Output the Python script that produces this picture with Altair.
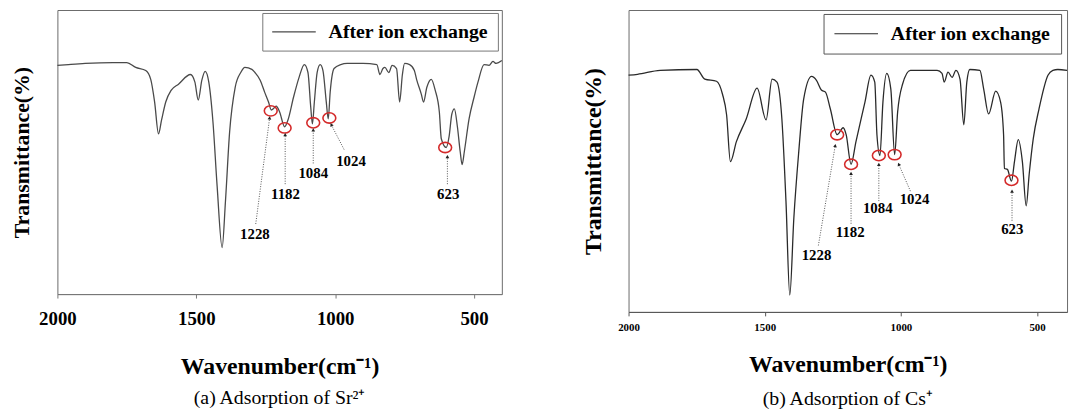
import altair as alt
import pandas as pd

SERIF = "Liberation Serif"
SERIES = "After ion exchange"

# ---------- (a) Adsorption of Sr2+ ----------
wn_a = [2000, 1960, 1900, 1800, 1750, 1718, 1682, 1664, 1650, 1636,
        1625, 1610, 1590, 1564, 1521, 1505, 1493, 1480, 1468, 1455,
        1440, 1425, 1407, 1395, 1380, 1360, 1340, 1325, 1300, 1289,
        1270, 1254, 1240, 1230, 1220, 1212, 1200, 1182, 1170, 1150,
        1130, 1111, 1098, 1088, 1082, 1075, 1065, 1054, 1044, 1032,
        1025, 1018, 1004, 980, 957, 900, 850, 839, 828, 821,
        807, 795, 779, 768, 758, 750, 732, 715, 707, 690,
        682, 670, 654, 640, 625, 618, 600, 590, 580, 571,
        560, 550, 543, 535, 518, 500, 486, 464, 446, 432,
        421, 400]
t_a = [80.5, 80.8, 81.2, 81.5, 81.5, 79.8, 78.7, 75.6, 67.6, 56.4,
       61.3, 67.6, 71.8, 73.9, 77.3, 74.6, 68.3, 75.3, 78.4, 74.6,
       60.6, 38.0, 16.4, 32.7, 57.1, 72.8, 78.0, 79.8, 79.1, 78.0,
       75.3, 71.1, 67.6, 64.8, 65.5, 66.2, 64.1, 58.9, 61.3, 69.3,
       76.3, 80.8, 78.0, 65.8, 59.9, 67.6, 78.0, 80.8, 78.7, 67.6,
       61.7, 71.1, 79.4, 80.8, 81.2, 81.2, 80.8, 77.3, 79.4, 79.8,
       78.0, 80.5, 79.4, 67.6, 77.3, 81.2, 80.8, 78.7, 75.6, 70.4,
       67.6, 72.8, 75.6, 71.8, 64.1, 54.7, 51.6, 55.4, 63.4, 65.2,
       58.9, 50.2, 45.6, 50.2, 61.7, 69.3, 74.6, 80.8, 80.5, 81.9,
       81.2, 82.2]

# ---------- (b) Adsorption of Cs+ ----------
wn_b = [2000, 1967, 1884, 1749, 1720, 1677, 1655, 1640, 1626, 1604,
        1568, 1528, 1495, 1473, 1455, 1437, 1422, 1408, 1393, 1375,
        1357, 1328, 1310, 1292, 1277, 1259, 1234, 1212, 1201, 1183,
        1165, 1132, 1110, 1096, 1088, 1077, 1066, 1052, 1037, 1023,
        1012, 994, 965, 867, 849, 841, 827, 812, 798, 783,
        769, 758, 747, 710, 696, 678, 652, 634, 623, 620,
        609, 594, 583, 569, 554, 540, 529, 514, 493, 460,
        442, 424, 390]
t_b = [78.4, 78.7, 80.0, 80.3, 77.1, 76.4, 72.1, 65.3, 49.8, 56.4,
       63.9, 74.1, 63.6, 77.1, 76.1, 63.9, 36.7, 5.6, 31.2, 53.1,
       70.5, 78.0, 76.7, 73.5, 72.8, 67.2, 58.7, 61.0, 58.7, 48.9,
       56.4, 69.5, 78.4, 76.1, 58.7, 51.8, 69.5, 79.0, 73.8, 52.1,
       66.2, 75.4, 80.0, 80.0, 79.0, 76.1, 79.4, 77.7, 80.0, 77.1,
       62.0, 76.1, 80.3, 80.0, 73.8, 65.6, 73.1, 69.5, 58.7, 47.5,
       47.2, 43.3, 49.8, 57.1, 49.8, 35.1, 45.6, 57.4, 67.2, 78.4,
       80.0, 80.3, 80.0]

# ---------- peak annotations ----------
peak_labels = ["1228", "1182", "1084", "1024", "623"]

circ_wn_a = [1232, 1182, 1079, 1021, 604]
circ_t_a = [64.5, 58.5, 60.3, 62.0, 51.6]
lab_wn_a = [1289, 1179, 1079, 943, 593]
lab_t_a = [21.3, 35.2, 42.5, 46.7, 35.2]
a0_wn_a = [1286, 1180, 1079, 968, 596]
a0_t_a = [24.7, 38.7, 46.0, 50.9, 38.7]
a1_wn_a = [1236, 1180, 1079, 1014, 596]
a1_t_a = [62.0, 56.1, 57.8, 59.6, 48.4]
ang_a = [7, 0, 0, 333, 0]

circ_wn_b = [1234, 1183, 1081, 1023, 594]
circ_t_b = [58.7, 48.9, 51.8, 52.1, 43.6]
lab_wn_b = [1310, 1186, 1085, 950, 591]
lab_t_b = [19.0, 26.6, 34.4, 37.4, 27.5]
a0_wn_b = [1303, 1183, 1081, 965, 592]
a0_t_b = [22.0, 29.2, 36.7, 40.0, 30.2]
a1_wn_b = [1241, 1183, 1081, 1008, 592]
a1_t_b = [55.1, 45.9, 48.9, 48.9, 40.0]
ang_b = [10, 0, 0, 336, 0]

tick_values = [2000, 1500, 1000, 500]

ELLIPSE = "M-1,0A1,0.8,0,1,1,1,0A1,0.8,0,1,1,-1,0Z"


def panel(wn, t, cw, ct, lw, lt, w0, t0, w1, t1, ang, caption, cfg):
    xs = alt.Scale(domain=cfg["x_dom"], nice=False, zero=False)
    ys = alt.Scale(domain=[0, 100], nice=False, zero=False)
    xax = alt.Axis(
        title="Wavenumber(cm⁻¹)", values=tick_values, format="d", grid=False,
        labelFont=SERIF, labelFontSize=cfg["lab_fs"], labelFontWeight="bold",
        labelColor="black", labelPadding=cfg["lab_pad"], labelOverlap=False,
        labelFlush=False, labelBound=False,
        tickSize=4, tickColor=cfg["frame"], domainColor=cfg["frame"],
        titleFont=SERIF, titleFontSize=24, titleFontWeight="bold",
        titleColor="black", titlePadding=cfg["xt_pad"])
    yax = alt.Axis(
        title="Transmittance(%)", labels=False, ticks=False, domain=False,
        grid=False, titleFont=SERIF, titleFontSize=cfg["yt_fs"],
        titleFontWeight="bold", titleColor="black", titlePadding=cfg["yt_pad"])

    def X(f):
        return alt.X(f, type="quantitative", scale=xs, axis=xax)

    def Y(f):
        return alt.Y(f, type="quantitative", scale=ys, axis=yax)

    df = pd.DataFrame({"wn": wn, "T": t, "series": [SERIES] * len(wn)})
    ann = pd.DataFrame({"label": peak_labels, "cw": cw, "ct": ct, "lw": lw,
                        "lt": lt, "w0": w0, "t0": t0, "w1": w1, "t1": t1,
                        "ang": ang})

    line = alt.Chart(df).mark_line(strokeWidth=1.3, interpolate="monotone").encode(
        x=X("wn"), y=Y("T"),
        color=alt.Color("series:N",
                        scale=alt.Scale(domain=[SERIES], range=[cfg["line"]]),
                        legend=alt.Legend(
                            title=None, orient="none",
                            legendX=cfg["leg_x"], legendY=cfg["leg_y"],
                            symbolType="stroke", symbolSize=1936,
                            symbolStrokeWidth=1.2, clipHeight=20,
                            labelFont=SERIF, labelFontSize=20,
                            labelFontWeight="bold", labelColor="black",
                            labelOffset=12, labelLimit=400,
                            padding=cfg["leg_pad"], strokeColor=cfg["frame"],
                            fillColor="white", cornerRadius=0)))
    circles = alt.Chart(ann).mark_point(
        shape=ELLIPSE, size=169, filled=False, stroke="#d42a2a",
        strokeWidth=1.6, opacity=1).encode(x=X("cw"), y=Y("ct"))
    rules = alt.Chart(ann).mark_rule(
        strokeDash=[1, 1.5], strokeWidth=1, color="#555").encode(
        x=X("w0"), y=Y("t0"), x2="w1", y2="t1")
    arrows = alt.Chart(ann).mark_point(
        shape="triangle-up", filled=True, size=14, color="#222", opacity=1).encode(
        x=X("w1"), y=Y("t1"), angle=alt.Angle("ang:Q", scale=None))
    texts = alt.Chart(ann).mark_text(
        font=SERIF, fontSize=15, fontWeight="bold", color="black").encode(
        x=X("lw"), y=Y("lt"), text="label:N")

    return alt.layer(line, circles, rules, arrows, texts).properties(
        width=cfg["w"], height=cfg["h"],
        title=alt.TitleParams(caption, orient="bottom", font=SERIF, fontSize=20,
                              fontWeight="normal", color="black",
                              offset=cfg["cap_off"]))


cfg_a = dict(x_dom=[2000, 400], w=449, h=287, lab_fs=19, lab_pad=12,
             xt_pad=26, yt_fs=22, yt_pad=24, line="#4a4a4a", frame="#777777",
             leg_x=207, leg_y=3, leg_pad=9, cap_off=10)
cfg_b = dict(x_dom=[2000, 390], w=443, h=305, lab_fs=11, lab_pad=6,
             xt_pad=20, yt_fs=24, yt_pad=23, line="#2a2a2a", frame="#555555",
             leg_x=197, leg_y=4, leg_pad=10, cap_off=13)

left = panel(wn_a, t_a, circ_wn_a, circ_t_a, lab_wn_a, lab_t_a, a0_wn_a, a0_t_a,
             a1_wn_a, a1_t_a, ang_a, "(a) Adsorption of Sr²⁺", cfg_a)
right = panel(wn_b, t_b, circ_wn_b, circ_t_b, lab_wn_b, lab_t_b, a0_wn_b, a0_t_b,
              a1_wn_b, a1_t_b, ang_b, "(b) Adsorption of Cs⁺", cfg_b)

chart = alt.hconcat(left, right, spacing=76).resolve_scale(
    x="independent", y="independent", color="independent"
).properties(
    padding={"left": 10, "top": 7, "right": 0, "bottom": 0},
    background="white",
).configure_view(stroke="#6a6a6a", strokeWidth=1)

chart.save("out.html", embed_options={"renderer": "svg", "actions": False})
